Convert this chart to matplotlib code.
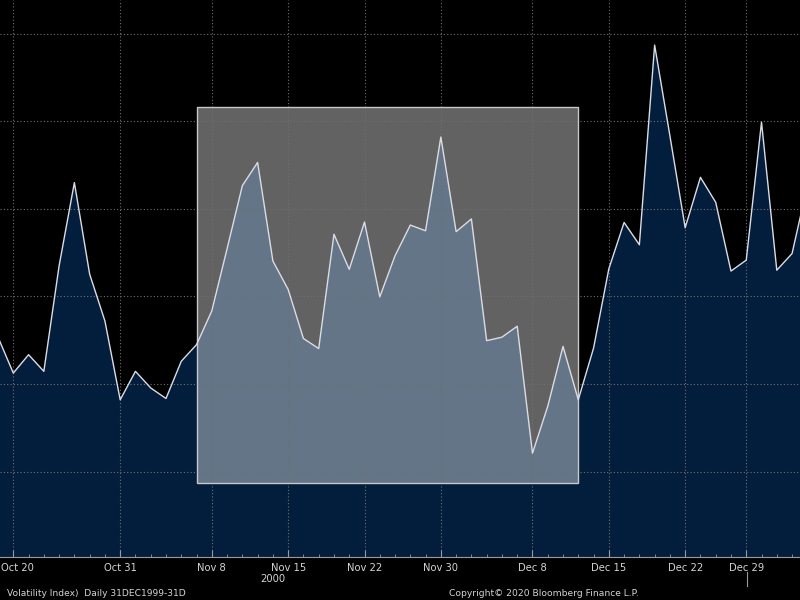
import matplotlib
matplotlib.use("Agg")
import matplotlib.pyplot as plt
import matplotlib.transforms as mtransforms
from matplotlib.patches import Rectangle

# trading days, Oct 19 2000 - Jan 5 2001 (index 0 = Oct 20)
dates = ["Oct 19", "Oct 20", "Oct 23", "Oct 24", "Oct 25", "Oct 26", "Oct 27", "Oct 30", "Oct 31",
         "Nov 1", "Nov 2", "Nov 3", "Nov 6", "Nov 7", "Nov 8", "Nov 9", "Nov 10", "Nov 13",
         "Nov 14", "Nov 15", "Nov 16", "Nov 17", "Nov 20", "Nov 21", "Nov 22", "Nov 24",
         "Nov 27", "Nov 28", "Nov 29", "Nov 30", "Dec 1", "Dec 4", "Dec 5", "Dec 6", "Dec 7",
         "Dec 8", "Dec 11", "Dec 12", "Dec 13", "Dec 14", "Dec 15", "Dec 18", "Dec 19",
         "Dec 20", "Dec 21", "Dec 22", "Dec 26", "Dec 27", "Dec 28", "Dec 29", "Jan 2",
         "Jan 3", "Jan 4", "Jan 5"]
vix = [25.07, 24.25, 24.67, 24.29, 26.70, 28.60, 26.51, 25.44, 23.64,
       24.29, 23.91, 23.67, 24.52, 24.90, 25.67, 27.09, 28.53, 29.06,
       26.81, 26.16, 25.04, 24.81, 27.42, 26.62, 27.70, 25.99,
       26.93, 27.63, 27.50, 29.64, 27.48, 27.77, 24.99, 25.07, 25.32,
       22.42, 23.49, 24.86, 23.64, 24.82, 26.63, 27.69, 27.18,
       31.74, 29.67, 27.57, 28.72, 28.15, 26.58, 26.83, 29.98,
       26.60, 26.98, 28.53]

tick_dates = ["Oct 20", "Oct 31", "Nov 8", "Nov 15", "Nov 22", "Nov 30",
              "Dec 8", "Dec 15", "Dec 22", "Dec 29"]
grid_levels = [22, 24, 26, 28, 30, 32]

# highlighted window
box_start, box_end = "Nov 7", "Dec 13"
box_low, box_high = 21.75, 30.32

NAVY = "#031e3c"
TXT = "#d4d4d4"

x = [i - 1 for i in range(len(dates))]
pos = {d: i - 1 for i, d in enumerate(dates)}

fig = plt.figure(figsize=(8, 6), dpi=100, facecolor="black")
ax = fig.add_axes([0, 1 - 557 / 600, 1, 557 / 600])
ax.set_facecolor("black")

ylo, yhi = 20.05, 32.77

ax.fill_between(x, vix, ylo, color=NAVY, lw=0, zorder=1)
ax.plot(x, vix, color="#dcdce4", lw=1.0, zorder=3)

x0, x1 = pos[box_start], pos[box_end]
ax.add_patch(Rectangle((x0, box_low), x1 - x0, box_high - box_low,
                       facecolor="white", alpha=0.39, edgecolor="none", zorder=2))
ax.add_patch(Rectangle((x0, box_low), x1 - x0, box_high - box_low,
                       facecolor="none", edgecolor="#c8c8c8", lw=1.0, zorder=2.6))

ax.set_xticks([pos[d] for d in tick_dates])
ax.set_xticklabels(tick_dates)
ax.set_xticks(x, minor=True)
ax.set_yticks(grid_levels)
# limits after the ticks, set_xticks would widen them
ax.set_xlim(-0.871, 51.52)
ax.set_ylim(ylo, yhi)

ax.tick_params(axis="x", which="major", colors="#9a9a9a", labelcolor=TXT,
               direction="in", length=5, labelsize=7.2, pad=4)
ax.tick_params(axis="x", which="minor", colors="#9a9a9a", direction="in", length=2.5)
ax.tick_params(axis="y", left=False, labelleft=False)

# nudge the first label so it stays inside the picture
first = ax.xaxis.get_major_ticks()[0].label1
first.set_transform(first.get_transform() + mtransforms.ScaledTranslation(3 / 72, 0, fig.dpi_scale_trans))

ax.set_axisbelow(False)
ax.grid(True, which="major", color="#707070", lw=0.8, ls=(0, (1, 2)))

for s in ["top", "left", "right"]:
    ax.spines[s].set_visible(False)
ax.spines["bottom"].set_color("#9a9a9a")
ax.spines["bottom"].set_linestyle((0, (2, 1)))
ax.spines["bottom"].set_linewidth(0.8)

# year label and year separator
tr = mtransforms.blended_transform_factory(ax.transData, fig.transFigure)
ax.text(pos["Nov 14"], 1 - 579 / 600, "2000", transform=tr, ha="center", va="center",
        color=TXT, fontsize=7.2, clip_on=False)
ax.plot([pos["Dec 29"] + 0.05] * 2, [1 - 572 / 600, 1 - 586 / 600], transform=tr,
        color="#9a9a9a", lw=0.8, clip_on=False)

fig.text(7 / 800, 1 - 593 / 600, "Volatility Index)  Daily 31DEC1999-31D",
         ha="left", va="center", color=TXT, fontsize=6.6)
fig.text(449 / 800, 1 - 593 / 600, "Copyright\u00a9 2020 Bloomberg Finance L.P.",
         ha="left", va="center", color=TXT, fontsize=6.6)

fig.savefig("out.png", dpi=100, facecolor="black")
